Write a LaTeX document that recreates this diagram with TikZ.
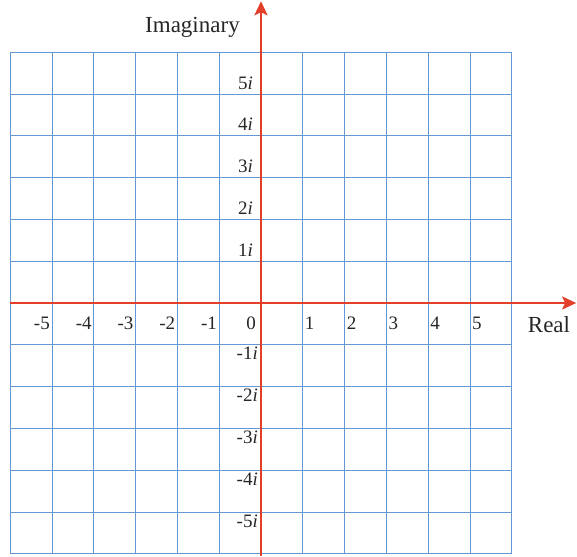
\documentclass[tikz,border=0pt]{standalone}
\usepackage{fontspec}
\setmainfont{Liberation Serif}
\usetikzlibrary{arrows.meta}
\definecolor{gridblue}{RGB}{100,152,210}
\definecolor{axisred}{RGB}{226,62,42}
\tikzset{
  gridline/.style={draw=gridblue, line width=0.9pt},
  axisline/.style={draw=axisred, line width=2.6pt, -{Stealth[length=14pt,width=13pt,inset=3pt]}},
  numlbl/.style={font=\fontsize{19}{19}\selectfont, inner sep=0pt, text=black!85},
  axlbl/.style={font=\fontsize{23}{23}\selectfont, inner sep=0pt, text=black!85}
}
\begin{document}
\begin{tikzpicture}[x=41.8pt,y=41.8pt]
\useasboundingbox (-6.244,-6.053) rectangle (7.560,7.249);
% grid
\foreach \k in {-6,...,6}{
  \draw[gridline] (\k,-6) -- (\k,6);
  \draw[gridline] (-6,\k) -- (6,\k);
}
% axes
\coordinate (xs) at (-6,0);
\coordinate (xe) at (7.54,0);
\coordinate (ys) at (0,-6.053);
\coordinate (ye) at (0,7.22);
\draw[axisline] (xs) -- (xe);
\draw[axisline] (ys) -- (ye);
% axis labels
\node[axlbl] (imag) at (-1.639,6.603) {Imaginary};
\node[axlbl] (real) at (6.89,-0.526) {Real};
% real numbers
\foreach \k in {1,...,5}{
  \node[numlbl, anchor=base west, xshift=2pt] (p\k) at (\k,-0.622) {\k};
  \node[numlbl, anchor=base east, xshift=-2pt] (n\k) at (-\k,-0.622) {-\k};
}
\node[numlbl, anchor=base east, xshift=-5pt] (zero) at (0,-0.622) {0};
% imaginary numbers
\foreach \k in {1,...,5}{
  \node[numlbl, anchor=base east, xshift=-8pt, yshift=5pt] (ip\k) at (0,\k) {\k\textit{i}};
  \node[numlbl, anchor=base east, xshift=-3pt, yshift=-15pt] (in\k) at (0,-\k) {-\k\textit{i}};
}
\end{tikzpicture}
\end{document}
